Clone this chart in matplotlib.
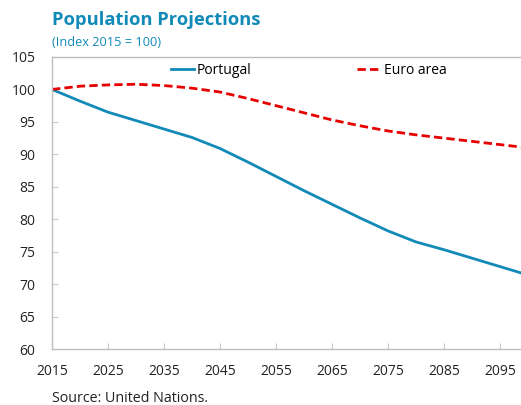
import matplotlib
matplotlib.use("Agg")
import matplotlib.pyplot as plt

years = [2015, 2020, 2025, 2030, 2035, 2040, 2045, 2050, 2055, 2060,
         2065, 2070, 2075, 2080, 2085, 2090, 2095, 2100]
portugal = [100, 98.2, 96.5, 95.2, 93.9, 92.6, 90.9, 88.8, 86.6, 84.4,
            82.3, 80.2, 78.2, 76.5, 75.3, 74.0, 72.7, 71.4]
euro_area = [100, 100.5, 100.7, 100.8, 100.6, 100.2, 99.6, 98.6, 97.5, 96.4,
             95.3, 94.4, 93.6, 93.0, 92.5, 92.0, 91.5, 91.0]
xticks = [2015, 2025, 2035, 2045, 2055, 2065, 2075, 2085, 2095]
yticks = [60, 65, 70, 75, 80, 85, 90, 95, 100, 105]

plt.rcParams['font.family'] = ['Open Sans', 'DejaVu Sans']

fig = plt.figure(figsize=(5.21, 4.05), dpi=100)
ax = fig.add_axes([52/521, (405-349)/405, 1 - 52/521, (349-57)/405])

blue = '#118AB8'
red = '#E60000'
ax.plot(years, portugal, color=blue, lw=2.0, label='Portugal')
ax.plot(years, euro_area, color=red, lw=2.0, ls=(0, (3, 1.5)), label='Euro area')

ax.set_xlim(2015, 2098.75)
ax.set_ylim(60, 105)
ax.set_xticks(xticks)
ax.set_yticks(yticks)
ax.tick_params(direction='in', length=4, color='#C8C8C8', labelsize=10,
               labelcolor='#222222')
ax.tick_params(axis='x', pad=11)
ax.tick_params(axis='y', pad=12)
for s in ['left', 'bottom', 'top']:
    ax.spines[s].set_color('#BFBFBF')
    ax.spines[s].set_linewidth(1.0)
ax.spines['right'].set_visible(False)

ax.legend(loc='upper center', bbox_to_anchor=(0.547, 1.022), ncol=2, frameon=False,
          fontsize=10, handlelength=1.7, handletextpad=0.2, columnspacing=7.6)

fig.text(52/521, 1 - 20/405, 'Population Projections', fontsize=13.2,
         fontweight='bold', color=blue, va='center', ha='left')
fig.text(52/521, 1 - 43/405, '(Index 2015 = 100)', fontsize=9.2, color=blue,
         va='center', ha='left')
fig.text(52/521, 1 - 399/405, 'Source: United Nations.', fontsize=10.3,
         color='#222222', va='center', ha='left')

fig.savefig('out.png', dpi=100)
